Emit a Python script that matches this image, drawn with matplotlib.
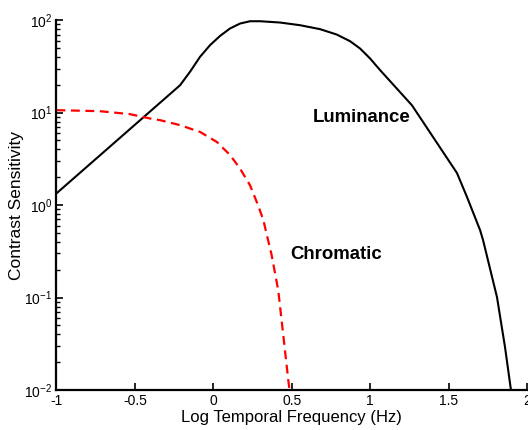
import numpy as np
import matplotlib
matplotlib.use("Agg")
import matplotlib.pyplot as plt
from matplotlib.ticker import LogLocator, NullFormatter, FixedLocator

plt.rcParams['font.family'] = ['Liberation Sans', 'DejaVu Sans']
plt.rcParams['mathtext.fontset'] = 'custom'
plt.rcParams['mathtext.rm'] = 'Liberation Sans'
plt.rcParams['mathtext.it'] = 'Liberation Sans'

# luminance sensitivity (log temporal frequency vs contrast sensitivity)
lum_logf = [-1.0, -0.212, -0.149, -0.085, -0.021, 0.043, 0.106, 0.170,
            0.234, 0.298, 0.425, 0.553, 0.681, 0.787, 0.872, 0.936,
            1.0, 1.064, 1.267, 1.554, 1.618, 1.701, 1.720, 1.809,
            1.860, 1.898]
lum_sens = [1.34, 19.8, 27.6, 40.1, 53.7, 67.6, 81.3, 92.0,
            97.5, 97.5, 94.4, 88.3, 80.0, 70.0, 59.3, 49.4,
            38.5, 28.8, 12.0, 2.22, 1.22, 0.537, 0.419, 0.101,
            0.0292, 0.010]

# chromatic sensitivity
chr_logf = [-1.0, -0.724, -0.533, -0.404, -0.340, -0.212, -0.085, 0.022,
            0.107, 0.170, 0.234, 0.285, 0.319, 0.372, 0.414, 0.446,
            0.478, 0.486]
chr_sens = [10.64, 10.38, 9.64, 8.65, 8.30, 7.33, 6.19, 4.83,
            3.48, 2.49, 1.64, 1.0, 0.689, 0.288, 0.120, 0.0394,
            0.0128, 0.010]

xticks = [-1, -0.5, 0, 0.5, 1, 1.5, 2]
xticklabels = ['-1', '-0.5', '0', '0.5', '1', '1.5', '2']

fig = plt.figure(figsize=(5.28, 4.30), dpi=100)
ax = fig.add_axes([0.107, 0.093, 0.891, 0.860])

ax.plot(lum_logf, lum_sens, color='black', lw=1.5)
ax.plot(chr_logf, chr_sens, color='#ff0000', lw=1.6, linestyle=(0, (4, 2.5)))

ax.set_yscale('log')
ax.set_xlim(-1, 2)
ax.set_ylim(1e-2, 1e2)

ax.xaxis.set_major_locator(FixedLocator(xticks))
ax.set_xticklabels(xticklabels)
ax.yaxis.set_major_locator(LogLocator(base=10, numticks=10))
ax.yaxis.set_minor_locator(LogLocator(base=10, subs=np.arange(2, 10), numticks=20))
ax.yaxis.set_minor_formatter(NullFormatter())

for side in ('top', 'right'):
    ax.spines[side].set_visible(False)
for side in ('left', 'bottom'):
    ax.spines[side].set_linewidth(1.6)

ax.tick_params(axis='both', which='major', direction='in', length=5,
               width=1.2, labelsize=10, pad=3)
ax.tick_params(axis='y', which='minor', direction='in', length=3, width=1)

ax.set_xlabel('Log Temporal Frequency (Hz)', fontsize=12, labelpad=1)
ax.set_ylabel('Contrast Sensitivity', fontsize=12.5, labelpad=0)

ax.text(0.634, 8.9, 'Luminance', fontsize=13.4, fontweight='bold',
        va='center', ha='left')
ax.text(0.493, 0.29, 'Chromatic', fontsize=13.4, fontweight='bold',
        va='center', ha='left')

fig.savefig('out.png', dpi=100)
